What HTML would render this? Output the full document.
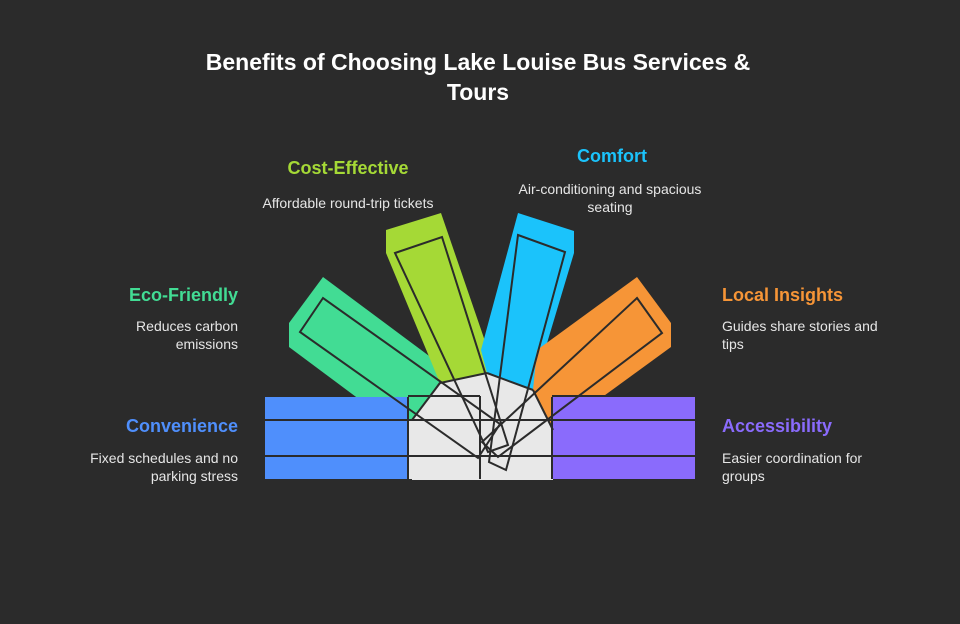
<!DOCTYPE html>
<html><head><meta charset="utf-8"><style>
body{margin:0;background:#2b2b2b;width:960px;height:624px;overflow:hidden;font-family:"Liberation Sans",sans-serif;}
svg{position:absolute;left:0;top:0}
</style></head><body>
<svg width="960" height="624" viewBox="0 0 960 624" xmlns="http://www.w3.org/2000/svg" font-family="Liberation Sans, sans-serif">
<rect x="408" y="397" width="144" height="82" fill="#e8e8e8"/>
<polygon points="323,277 289,323 289,347 387,420 412,420 448,370" fill="#42dc94"/>
<polygon points="386,230 441,213 487,347 487,373 440,383 386,253" fill="#a5d936"/>
<polygon points="518,213 574,231 574,253 533,390 487,373 481,350" fill="#1bc3fb"/>
<polygon points="637,277 671,323 671,347 553,433 533,390 537,350" fill="#f69537"/>
<polygon points="412,420 440,383 487,373 533,390 553,430 553,480 412,480" fill="#e8e8e8"/>
<rect x="265" y="397" width="143" height="82" fill="#4f8ffc"/>
<rect x="552" y="397" width="143" height="82" fill="#8a6bfc"/>
<g fill="none" stroke="#2b2b2b" stroke-width="2">
<polygon points="323,298 300,332 478,458 500,424"/>
<polygon points="395,253 442,237 508,445 488,452"/>
<polygon points="518,235 565,252 506,470 489,462"/>
<polygon points="637,298 662,333 498,457 482,442"/>
<line x1="265" y1="420" x2="695" y2="420"/>
<line x1="265" y1="456" x2="695" y2="456"/>
<line x1="408" y1="397" x2="408" y2="479"/>
<line x1="480" y1="396" x2="480" y2="479"/>
<line x1="552" y1="397" x2="552" y2="479"/>
<polyline points="408,396 480,396"/>
<polyline points="552,396 605,396"/>
<polyline points="440,383 487,373"/>
<polyline points="487,373 533,390"/>
<polyline points="533,390 553,430"/>
<polyline points="412,420 440,383"/>
</g>
<g text-anchor="middle" fill="#fff" font-weight="bold" font-size="23">
<text x="478" y="70">Benefits of Choosing Lake Louise Bus Services &amp;</text>
<text x="478" y="100">Tours</text>
</g>
<g font-weight="bold" font-size="18">
<text x="348" y="174" text-anchor="middle" fill="#a5d936">Cost-Effective</text>
<text x="612" y="162" text-anchor="middle" fill="#1bc3fb">Comfort</text>
<text x="238" y="301" text-anchor="end" fill="#42dc94">Eco-Friendly</text>
<text x="722" y="301" fill="#f69537">Local Insights</text>
<text x="238" y="432" text-anchor="end" fill="#4f8ffc">Convenience</text>
<text x="722" y="432" fill="#8a6bfc">Accessibility</text>
</g>
<g font-size="14" fill="#e6e6e6">
<text x="348" y="208" text-anchor="middle">Affordable round-trip tickets</text>
<text x="610" y="194" text-anchor="middle">Air-conditioning and spacious</text>
<text x="610" y="212" text-anchor="middle">seating</text>
<text x="238" y="331" text-anchor="end">Reduces carbon</text>
<text x="238" y="349" text-anchor="end">emissions</text>
<text x="722" y="331">Guides share stories and</text>
<text x="722" y="349">tips</text>
<text x="238" y="463" text-anchor="end">Fixed schedules and no</text>
<text x="238" y="481" text-anchor="end">parking stress</text>
<text x="722" y="463">Easier coordination for</text>
<text x="722" y="481">groups</text>
</g>
</svg>
</body></html>
